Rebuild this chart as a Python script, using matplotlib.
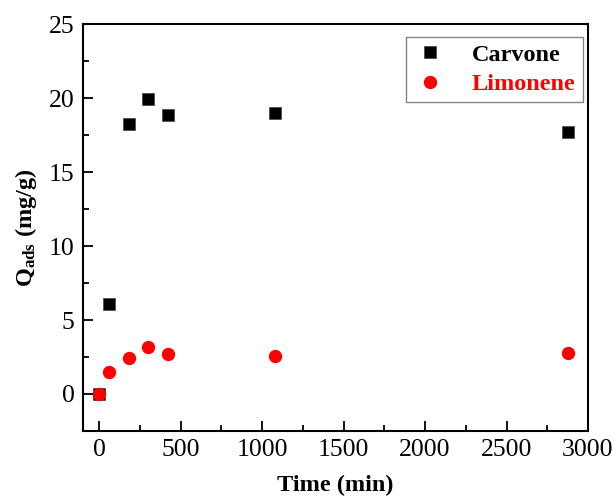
import matplotlib
matplotlib.use("Agg")
import matplotlib.pyplot as plt
from matplotlib.ticker import MultipleLocator

# Adsorption kinetics of the two terpenes
time_min = [0, 60, 180, 300, 420, 1080, 2880]
q_carvone = [0.0, 6.08, 18.22, 19.95, 18.85, 19.0, 17.72]
q_limonene = [0.0, 1.46, 2.41, 3.15, 2.72, 2.57, 2.75]

plt.rcParams['font.family'] = 'Liberation Serif'
plt.rcParams['mathtext.fontset'] = 'custom'
plt.rcParams['mathtext.bf'] = 'Liberation Serif:bold'
plt.rcParams['mathtext.rm'] = 'Liberation Serif'

fig = plt.figure(figsize=(6.16, 4.97), dpi=100)
ax = fig.add_axes([0.1347, 0.1328, 0.8198, 0.8189])

ax.plot(time_min, q_carvone, 's', color='black', markersize=8.6,
        markeredgecolor='#444444', markeredgewidth=0.5, label='Carvone')
ax.plot(time_min, q_limonene, 'o', color='red', markersize=9.6,
        markeredgewidth=0, label='Limonene')

ax.set_xlim(-100, 3000)
ax.set_ylim(-2.5, 25)
ax.xaxis.set_major_locator(MultipleLocator(500))
ax.xaxis.set_minor_locator(MultipleLocator(250))
ax.yaxis.set_major_locator(MultipleLocator(5))
ax.yaxis.set_minor_locator(MultipleLocator(2.5))
ax.tick_params(which='both', direction='in', top=False, right=False,
               labelsize=18.5, width=1.3, pad=6)
ax.tick_params(which='major', length=7)
ax.tick_params(which='minor', length=4)
for sp in ax.spines.values():
    sp.set_linewidth(1.5)

ax.set_xlabel('Time (min)', fontsize=17.5, fontweight='bold', labelpad=10)
ax.set_ylabel(r'$\mathbf{Q_{ads}}$ (mg/g)', fontsize=17.5, fontweight='bold', labelpad=7)

leg = ax.legend(loc='upper right', bbox_to_anchor=(1.004, 0.987), fancybox=False,
                edgecolor='#666666', prop={'weight': 'bold', 'size': 17.5},
                handletextpad=1.0, borderpad=0.3, labelspacing=0.3,
                handlelength=1.4, borderaxespad=0.3)
leg.get_frame().set_linewidth(1.0)
for txt, col in zip(leg.get_texts(), ['black', 'red']):
    txt.set_color(col)

fig.savefig('out.png', dpi=100)
